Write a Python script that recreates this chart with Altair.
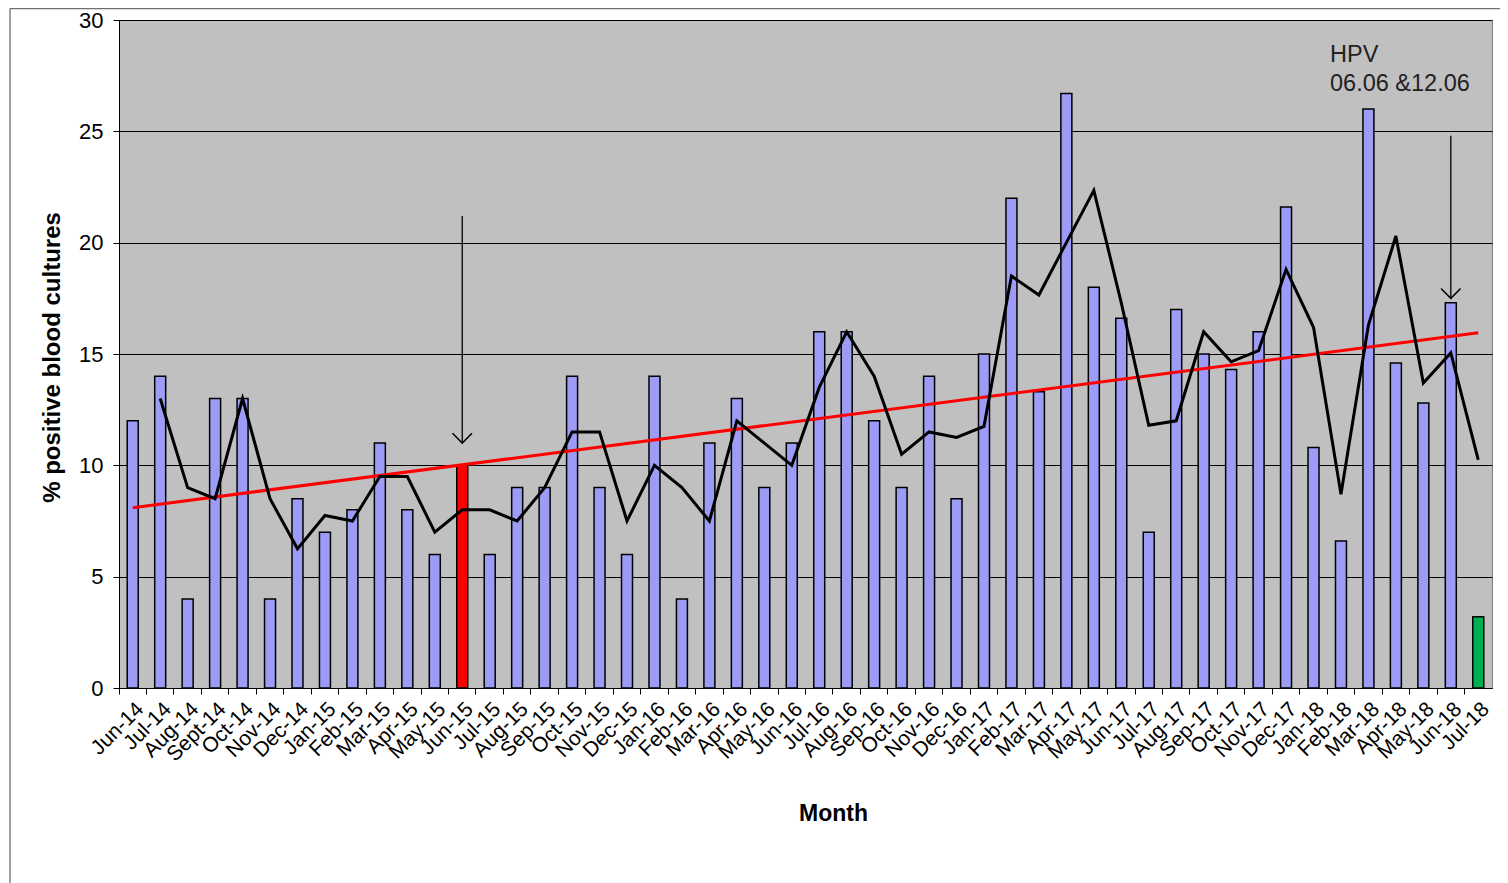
import altair as alt
import pandas as pd

months = ["Jun-14", "Jul-14", "Aug-14", "Sept-14", "Oct-14", "Nov-14", "Dec-14",
          "Jan-15", "Feb-15", "Mar-15", "Apr-15", "May-15", "Jun-15", "Jul-15", "Aug-15",
          "Sep-15", "Oct-15", "Nov-15", "Dec-15",
          "Jan-16", "Feb-16", "Mar-16", "Apr-16", "May-16", "Jun-16", "Jul-16", "Aug-16",
          "Sep-16", "Oct-16", "Nov-16", "Dec-16",
          "Jan-17", "Feb-17", "Mar-17", "Apr-17", "May-17", "Jun-17", "Jul-17", "Aug-17",
          "Sep-17", "Oct-17", "Nov-17", "Dec-17",
          "Jan-18", "Feb-18", "Mar-18", "Apr-18", "May-18", "Jun-18", "Jul-18"]

pct_positive = [12, 14, 4, 13, 13, 4, 8.5,
                7, 8, 11, 8, 6, 10, 6, 9, 9, 14, 9, 6,
                14, 4, 11, 13, 9, 11, 16, 16, 12, 9, 14, 8.5,
                15, 22, 13.3, 26.7, 18, 16.6, 7, 17, 15, 14.3, 16, 21.6,
                10.8, 6.6, 26, 14.6, 12.8, 17.3, 3.2]

# moving-average line (starts at Jul-14)
avg_months = months[1:]
avg_values = [13, 9, 8.5, 13, 8.5, 6.25,
              7.75, 7.5, 9.5, 9.5, 7, 8, 8, 7.5, 9, 11.5, 11.5, 7.5,
              10, 9, 7.5, 12, 11, 10, 13.5, 16, 14, 10.5, 11.5, 11.25,
              11.75, 18.5, 17.65, 20, 22.35, 17.3, 11.8, 12, 16, 14.65, 15.15, 18.8,
              16.2, 8.7, 16.3, 20.3, 13.7, 15.05, 10.25]

# linear trend line end points
trend_months = ["Jun-14", "Jul-18"]
trend_values = [8.1, 15.95]

# annotation arrows
arrow_months = ["Jun-15", "Jun-18"]
arrow_from = [21.2, 24.8]
arrow_to = [11.0, 17.5]

note_lines = ["HPV", "06.06 &12.06"]
highlight_month = "Jun-15"
latest_month = "Jul-18"

W, H = 1373, 668
FONT = "Liberation Sans"

bars_df = pd.DataFrame({"month": months, "pct": pct_positive})
bars_df["kind"] = ["intervention" if m == highlight_month else ("latest" if m == latest_month else "normal")
                   for m in months]
avg_df = pd.DataFrame({"month": avg_months, "avg": avg_values})
trend_df = pd.DataFrame({"month": trend_months, "trend": trend_values})
arrow_df = pd.DataFrame({"month": arrow_months, "y1": arrow_from, "y2": arrow_to})

xscale = alt.Scale(domain=months, paddingInner=0, paddingOuter=0)
yscale = alt.Scale(domain=[0, 30], nice=False)

x_axis = alt.Axis(title="Month", bandPosition=0,
                  labelAngle=-45, labelFontSize=21, labelFont=FONT, labelColor="black",
                  labelPadding=4, tickSize=6, tickColor="black", domainColor="black",
                  titleFont=FONT, titleFontSize=23, titleFontWeight="bold", titleColor="black",
                  titleX=714, titleY=125, titleBaseline="middle", grid=False)
y_axis = alt.Axis(title="% positive blood cultures", values=[0, 5, 10, 15, 20, 25, 30],
                  labelFontSize=22, labelFont=FONT, labelColor="black", labelPadding=10,
                  tickSize=6, tickColor="black", domainColor="black", grid=True,
                  gridColor="black", gridWidth=1, titleFont=FONT, titleFontSize=24,
                  titleFontWeight="bold", titleColor="black", titleX=-67, titleY=337,
                  titleBaseline="middle")

bars = alt.Chart(bars_df).mark_bar(width=alt.RelativeBandSize(0.4), stroke="black",
                                   strokeWidth=1.5).encode(
    x=alt.X("month:N", sort=months, scale=xscale, axis=x_axis),
    y=alt.Y("pct:Q", scale=yscale, axis=y_axis),
    color=alt.Color("kind:N", scale=alt.Scale(domain=["normal", "intervention", "latest"],
                                              range=["#9c9cf6", "#ff0000", "#00b050"]),
                    legend=None),
)

avg_line = alt.Chart(avg_df).mark_line(color="black", strokeWidth=3).encode(
    x=alt.X("month:N", sort=months, bandPosition=0.5),
    y=alt.Y("avg:Q"),
)

trend_line = alt.Chart(trend_df).mark_line(color="#ff0000", strokeWidth=3).encode(
    x=alt.X("month:N", sort=months, bandPosition=0.5),
    y=alt.Y("trend:Q"),
)

arrow_shaft = alt.Chart(arrow_df).mark_rule(color="black", strokeWidth=1.3).encode(
    x=alt.X("month:N", sort=months, bandPosition=0.5),
    y=alt.Y("y1:Q"),
    y2="y2:Q",
)
arrow_head = alt.Chart(arrow_df).mark_point(shape="M-1,-1L0,0L1,-1", filled=False,
                                            size=380, color="black", strokeWidth=1.5,
                                            opacity=1).encode(
    x=alt.X("month:N", sort=months, bandPosition=0.5),
    y=alt.Y("y2:Q"),
)

note = alt.Chart(alt.Data(values=[{}])).mark_text(
    align="left", baseline="top", font=FONT, fontSize=23.5, lineHeight=29, color="#222222"
).encode(x=alt.value(1211), y=alt.value(23), text=alt.value(note_lines))

frame_top = alt.Chart(alt.Data(values=[{}])).mark_rule(color="#6f6f6f", strokeWidth=1.3).encode(
    x=alt.value(-109), x2=alt.value(1381), y=alt.value(-11.5))
frame_left = alt.Chart(alt.Data(values=[{}])).mark_rule(color="#6f6f6f", strokeWidth=1.3).encode(
    x=alt.value(-109), y=alt.value(-11.5), y2=alt.value(870))

chart = alt.layer(frame_top, frame_left, bars, trend_line, avg_line, arrow_shaft, arrow_head,
                  note).properties(
    width=W, height=H,
    background="white",
    autosize=alt.AutoSizeParams(type="none"),
    padding={"left": 111, "top": 12, "right": 8, "bottom": 195},
).configure_view(fill="#c0c0c0", stroke="#808080", strokeWidth=1)

chart.save("out.html", embed_options={"renderer": "svg", "actions": False})
